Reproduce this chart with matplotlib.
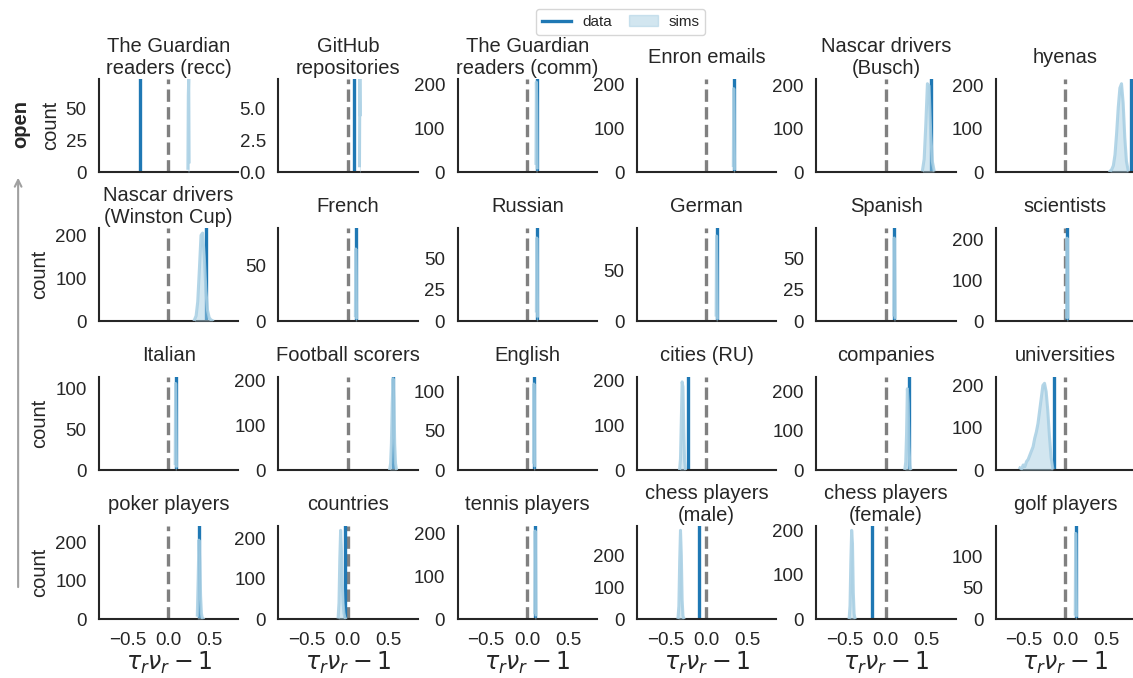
import matplotlib
matplotlib.use("Agg")
import matplotlib.pyplot as plt
import numpy as np
from matplotlib.lines import Line2D
from matplotlib.patches import Patch, FancyArrowPatch

plt.rcParams['font.family'] = ['Liberation Sans', 'DejaVu Sans']
plt.rcParams['text.color'] = '.15'
plt.rcParams['axes.labelcolor'] = '.15'

# one panel per dataset, row by row
titles = [
    'The Guardian\nreaders (recc)', 'GitHub\nrepositories', 'The Guardian\nreaders (comm)',
    'Enron emails', 'Nascar drivers\n(Busch)', 'hyenas',
    'Nascar drivers\n(Winston Cup)', 'French', 'Russian', 'German', 'Spanish', 'scientists',
    'Italian', 'Football scorers', 'English', 'cities (RU)', 'companies', 'universities',
    'poker players', 'countries', 'tennis players', 'chess players\n(male)',
    'chess players\n(female)', 'golf players',
]

# observed tau_r * nu_r - 1
data_vals = [
    -0.347, 0.078, 0.118, 0.339, 0.555, 0.81,
    0.461, 0.102, 0.121, 0.127, 0.104, 0.029,
    0.09, 0.56, 0.086, -0.218, 0.28, -0.14,
    0.375, -0.03, 0.098, -0.087, -0.166, 0.131,
]

# simulated histograms: first bin centre, bin width, counts
sims_start = [
    0.24, 0.145, 0.11, 0.33, 0.45, 0.55,
    0.32, 0.095, 0.115, 0.12, 0.10, 0.02,
    0.085, 0.515, 0.08, -0.325, 0.235, -0.55,
    0.355, -0.115, 0.095, -0.345, -0.445, 0.125,
]
sims_width = [
    0.005, 0.005, 0.005, 0.005, 0.02, 0.02,
    0.02, 0.005, 0.005, 0.005, 0.005, 0.005,
    0.005, 0.01, 0.005, 0.01, 0.01, 0.02,
    0.01, 0.01, 0.005, 0.01, 0.01, 0.005,
]
sims_counts = [
    [3, 60, 73, 8],
    [0.5, 7.3, 4.5],
    [20, 205, 150, 10],
    [15, 190, 120, 8],
    [5, 30, 110, 205, 200, 90, 25, 5],
    [2, 6, 15, 40, 90, 150, 195, 205, 160, 80, 25, 5],
    [3, 12, 45, 120, 200, 205, 150, 70, 25, 8, 3, 1],
    [5, 65, 40, 3],
    [8, 66, 45, 4],
    [6, 84, 50, 3],
    [5, 66, 40, 3],
    [10, 204, 150, 10],
    [8, 106, 70, 5],
    [3, 15, 60, 150, 205, 160, 60, 15, 3],
    [10, 110, 70, 6],
    [3, 25, 110, 196, 185, 90, 20, 3],
    [3, 20, 90, 207, 170, 60, 12, 2],
    [5, 3, 12, 8, 20, 25, 35, 45, 55, 75, 90, 110, 140, 170, 200, 205, 185, 140, 80, 30, 5],
    [10, 100, 205, 150, 60, 15, 3, 1],
    [5, 40, 150, 221, 170, 90, 40, 15, 5, 1],
    [15, 205, 140, 10],
    [5, 40, 180, 279, 200, 60, 10, 2],
    [3, 30, 130, 200, 170, 60, 12, 2],
    [8, 137, 90, 6],
]

y_max = [
    73, 7.3, 212, 212, 216, 216,
    217, 84, 74, 92, 74, 229,
    114, 209, 119, 207, 237, 220,
    242, 232, 217, 293, 210, 149,
]
y_ticks = [
    [0, 25, 50], [0, 2.5, 5.0], [0, 100, 200], [0, 100, 200], [0, 100, 200], [0, 100, 200],
    [0, 100, 200], [0, 50], [0, 25, 50], [0, 50], [0, 25, 50], [0, 100, 200],
    [0, 50, 100], [0, 100, 200], [0, 50, 100], [0, 100, 200], [0, 100, 200], [0, 100, 200],
    [0, 100, 200], [0, 100, 200], [0, 100, 200], [0, 100, 200], [0, 100, 200], [0, 50, 100],
]
x_ticks = [-0.5, 0.0, 0.5]

data_color = '#1f78b4'
sims_color = '#a6cee3'

fig, axes = plt.subplots(4, 6, figsize=(11.33, 6.78), dpi=100, sharex=True)
fig.subplots_adjust(left=0.0874, right=1.0018, top=0.8835, bottom=0.087,
                    wspace=0.288, hspace=0.6)

for i, ax in enumerate(axes.flat):
    centres = sims_start[i] + sims_width[i] * np.arange(len(sims_counts[i]))
    ax.axvline(0, color='gray', ls='--', lw=2.4, zorder=1)
    ax.axvline(data_vals[i], color=data_color, lw=2.4, zorder=2)
    ax.fill_between(centres, sims_counts[i], color=sims_color, alpha=0.5, lw=0, zorder=3)
    ax.plot(centres, sims_counts[i], color=sims_color, lw=2.2, alpha=0.85, zorder=3)

    ax.set_xlim(-0.845, 0.855)
    ax.set_xticks(x_ticks)
    ax.set_ylim(0, y_max[i])
    ax.set_yticks(y_ticks[i])
    ax.set_title(titles[i], fontsize=14.5, va='center', y=1.226, pad=0)

    for side in ['top', 'right']:
        ax.spines[side].set_visible(False)
    for side in ['left', 'bottom']:
        ax.spines[side].set_color('.15')
        ax.spines[side].set_linewidth(1.5)
    ax.tick_params(length=0, pad=9, labelsize=13.5, colors='.15')

    if i % 6 == 0:
        ax.set_ylabel('count', fontsize=14.5)
    if i >= 18:
        ax.set_xlabel(r'$\tau_r\nu_r - 1$', fontsize=17, labelpad=1)

handles = [Line2D([], [], color=data_color, lw=2.4),
           Patch(facecolor=sims_color, alpha=0.5, edgecolor=sims_color)]
fig.legend(handles, ['data', 'sims'], loc='upper center', bbox_to_anchor=(0.548, 0.998),
           ncol=2, fontsize=11, edgecolor='.8', fancybox=True,
           columnspacing=1.1, handletextpad=0.7, handlelength=1.9)

# direction marker on the left margin
fig.add_artist(FancyArrowPatch((0.016, 0.13), (0.016, 0.742), transform=fig.transFigure,
                               arrowstyle='->', mutation_scale=12, color='#a0a0a0', lw=1.5))
fig.text(0.0185, 0.817, 'open', rotation=90, fontweight='bold', fontsize=14.5,
         ha='center', va='center')

fig.savefig('out.png', dpi=100)
